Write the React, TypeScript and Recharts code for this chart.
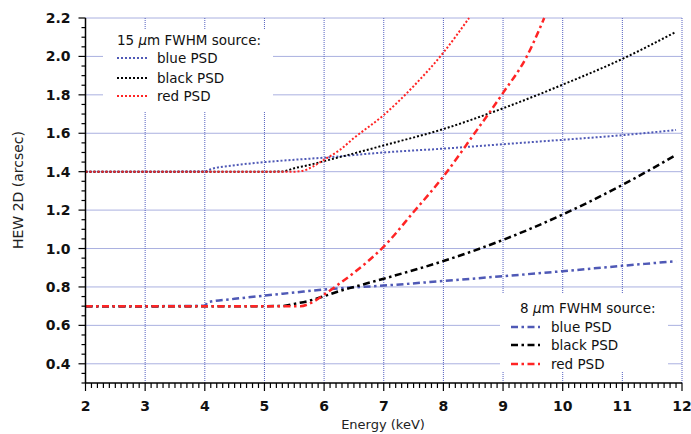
import { Line, LineChart, ReferenceLine, XAxis, YAxis } from "recharts";

// energy (keV) and HEW (arcsec)
const blue15E = [2, 3, 4, 4.1, 4.5, 5, 5.5, 6, 7, 8, 9, 10, 11, 11.9];
const blue15V = [1.4, 1.4, 1.401, 1.413, 1.433, 1.45, 1.462, 1.473, 1.5, 1.52, 1.543, 1.566, 1.59, 1.617];
const black15E = [2, 3, 4, 5, 5.3, 5.5, 5.75, 6, 6.5, 7, 8, 9, 10, 11, 11.9];
const black15V = [1.4, 1.4, 1.4, 1.4, 1.401, 1.418, 1.435, 1.455, 1.495, 1.537, 1.622, 1.73, 1.853, 1.987, 2.128];
const red15E = [2, 3, 4, 5, 5.5, 5.65, 5.8, 6, 6.27, 6.5, 7, 7.5, 8, 8.43];
const red15V = [1.4, 1.4, 1.4, 1.4, 1.4, 1.405, 1.425, 1.462, 1.515, 1.575, 1.695, 1.845, 2.02, 2.2];

const blue8E = [2, 3, 4, 4.05, 4.5, 5, 5.5, 6, 7, 8, 9, 10, 11, 11.9];
const blue8V = [0.7, 0.7, 0.702, 0.72, 0.738, 0.755, 0.771, 0.787, 0.807, 0.831, 0.856, 0.882, 0.91, 0.934];
const black8E = [2, 3, 4, 5, 5.3, 5.5, 5.75, 6, 6.27, 6.5, 7, 8, 9, 10, 11, 11.9];
const black8V = [0.7, 0.7, 0.7, 0.7, 0.701, 0.712, 0.728, 0.752, 0.78, 0.8, 0.843, 0.935, 1.045, 1.177, 1.331, 1.487];
const red8E = [2, 3, 4, 5, 5.6, 5.8, 6, 6.27, 6.5, 7, 7.5, 8, 8.5, 9, 9.39, 9.69];
const red8V = [0.7, 0.7, 0.7, 0.7, 0.7, 0.72, 0.76, 0.82, 0.874, 1.01, 1.19, 1.375, 1.59, 1.81, 1.995, 2.2];

const xLabelTicks = [2, 3, 4, 5, 6, 7, 8, 9, 10, 11, 12];
const yLabelTicks = [0.4, 0.6, 0.8, 1.0, 1.2, 1.4, 1.6, 1.8, 2.0, 2.2];
const xMinorStep = 0.1;
const yMinorStep = 0.05;
const yMin = 0.3;

const BLUE = "#4f59b6";
const RED = "#ff2424";
const BLACK = "#000";
const GRID = "#5561c0";
const DOTTED = "2 2";
const DASHDOT = "7 3.5 2.5 3.5";
const FONT = "DejaVu Sans";

const pts = (e: number[], v: number[]) => e.map((x, i) => ({ e: x, v: v[i] }));

function steps(from: number, to: number, step: number) {
    const out: number[] = [];
    const n = Math.round((to - from) / step);
    for (let i = 0; i <= n; i++) out.push(Math.round((from + i * step) * 1000) / 1000);
    return out;
}

const xTicks = steps(xLabelTicks[0], xLabelTicks[xLabelTicks.length - 1], xMinorStep);
const yTicks = steps(yMin, yLabelTicks[yLabelTicks.length - 1], yMinorStep);

const isMajor = (v: number, list: number[]) => list.some(t => Math.abs(t - v) < 1e-6);

function XTick({ x, y, payload }: any) {
    const major = isMajor(payload.value, xLabelTicks);
    return (
        <g>
            <line x1={x} x2={x} y1={y} y2={y + (major ? 8 : 5)} stroke="#000" strokeWidth={1.2} />
            {major && (
                <text x={x} y={y + 28} textAnchor="middle" fontFamily={FONT} fontWeight="bold" fontSize={14} fill="#111">
                    {payload.value}
                </text>
            )}
        </g>
    );
}

function YTick({ x, y, payload }: any) {
    const major = isMajor(payload.value, yLabelTicks);
    return (
        <g>
            <line x1={x} x2={x - (major ? 7 : 4)} y1={y} y2={y} stroke="#000" strokeWidth={1.2} />
            {major && (
                <text x={x - 15} y={y} dy="0.36em" textAnchor="end" fontFamily={FONT} fontWeight="bold" fontSize={14} fill="#111">
                    {payload.value.toFixed(1)}
                </text>
            )}
        </g>
    );
}

interface ILegendProps {
    box: { left: number, top: number, width: number, height: number },
    titleX: number,
    titleY: number,
    rowYs: number[],
    lineX: [number, number],
    textX: number,
    size: string,
    dash: string,
    width: number
}

const legendItems = [
    { label: "blue PSD", color: BLUE },
    { label: "black PSD", color: BLACK },
    { label: "red PSD", color: RED },
];

function PsdLegend({ box, titleX, titleY, rowYs, lineX, textX, size, dash, width }: ILegendProps) {
    const txt = { position: "absolute" as const, fontFamily: FONT, fontSize: 13.5, color: "#111", lineHeight: "16px", whiteSpace: "nowrap" as const };
    return (
        <>
            <div style={{ position: "absolute", ...box, background: "#fff" }} />
            <div style={{ ...txt, left: titleX, top: titleY - 8 }}>
                {size} <i>μ</i>m FWHM source:
            </div>
            {legendItems.map((it, i) => (
                <div key={it.label}>
                    <svg style={{ position: "absolute", left: lineX[0], top: rowYs[i] - 3 }} width={lineX[1] - lineX[0]} height={6}>
                        <line x1={0} x2={lineX[1] - lineX[0]} y1={3} y2={3} stroke={it.color} strokeWidth={width} strokeDasharray={dash} />
                    </svg>
                    <div style={{ ...txt, left: textX, top: rowYs[i] - 8 }}>{it.label}</div>
                </div>
            ))}
        </>
    );
}

export default function App() {
    const series = [
        { key: "b15", data: pts(blue15E, blue15V), color: BLUE, dash: DOTTED, w: 2 },
        { key: "k15", data: pts(black15E, black15V), color: BLACK, dash: DOTTED, w: 2 },
        { key: "r15", data: pts(red15E, red15V), color: RED, dash: DOTTED, w: 2 },
        { key: "b8", data: pts(blue8E, blue8V), color: BLUE, dash: DASHDOT, w: 2.5 },
        { key: "k8", data: pts(black8E, black8V), color: BLACK, dash: DASHDOT, w: 2.5 },
        { key: "r8", data: pts(red8E, red8V), color: RED, dash: DASHDOT, w: 2.5 },
    ];
    return (
        <div style={{ position: "absolute", left: 0, top: 0, width: 691, height: 434, background: "#fff" }}>
            <LineChart width={691} height={434} margin={{ top: 18, right: 9, bottom: 21, left: 0 }}>
                <XAxis dataKey="e" type="number" domain={[2, 12]} ticks={xTicks} interval={0} tickSize={0} tickMargin={0}
                    height={30} tick={<XTick />} axisLine={{ stroke: "#000", strokeWidth: 1.5 }} tickLine={false} allowDuplicatedCategory={false} />
                <YAxis type="number" domain={[yMin, 2.2]} ticks={yTicks} interval={0} tickSize={0} tickMargin={0}
                    width={85.5} tick={<YTick />} axisLine={{ stroke: "#000", strokeWidth: 1.5 }} tickLine={false} />
                {xLabelTicks.slice(1).map(v => (
                    <ReferenceLine key={`gx${v}`} x={v} stroke={GRID} strokeDasharray="1 1" strokeWidth={1} />
                ))}
                {yLabelTicks.map(v => (
                    <ReferenceLine key={`gy${v}`} y={v} stroke={GRID} strokeDasharray="1 1" strokeWidth={1} />
                ))}
                {series.map(s => (
                    <Line key={s.key} data={s.data} dataKey="v" type="monotone" stroke={s.color} strokeWidth={s.w}
                        strokeDasharray={s.dash} dot={false} activeDot={false} isAnimationActive={false} />
                ))}
            </LineChart>
            <PsdLegend box={{ left: 103, top: 30, width: 170, height: 82 }} titleX={117} titleY={40} rowYs={[58.3, 77.7, 96]}
                lineX={[117, 148]} textX={157} size="15" dash={DOTTED} width={2} />
            <PsdLegend box={{ left: 500, top: 293, width: 168, height: 79 }} titleX={520} titleY={307.7} rowYs={[326.7, 345.3, 364]}
                lineX={[511, 540]} textX={551} size="8" dash={DASHDOT} width={2.5} />
            <div style={{ position: "absolute", left: 283, width: 200, top: 417, textAlign: "center", fontFamily: FONT, fontSize: 13, color: "#222" }}>
                Energy (keV)
            </div>
            <div style={{ position: "absolute", left: 18, top: 190, width: 0, height: 0 }}>
                <div style={{ position: "absolute", left: -100, top: -9, width: 200, textAlign: "center", transform: "rotate(-90deg)",
                    fontFamily: FONT, fontSize: 14, color: "#222", lineHeight: "18px", whiteSpace: "nowrap" }}>
                    HEW 2D (arcsec)
                </div>
            </div>
        </div>
    );
}
